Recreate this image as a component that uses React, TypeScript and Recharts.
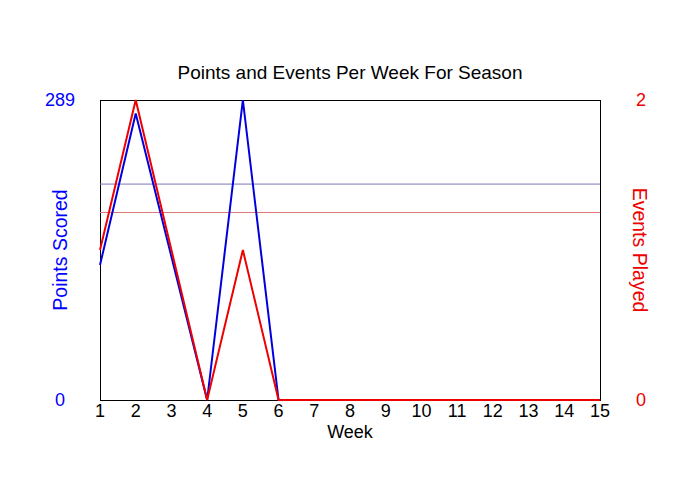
import React from "react"
import { LineChart, Line, XAxis, YAxis, ReferenceLine } from "recharts"

const weeks = [1, 2, 3, 4, 5, 6, 7, 8, 9, 10, 11, 12, 13, 14, 15]
const pointsScored = [130, 276, 138, 0, 289, 0, 0, 0, 0, 0, 0, 0, 0, 0, 0]
const eventsPlayed = [1, 2, 1, 0, 1, 0, 0, 0, 0, 0, 0, 0, 0, 0, 0]
const pointsTicks = [0, 289]
const eventsTicks = [0, 2]
// averages over weeks that were actually played
const avgPoints = 208
const avgEvents = 1.25

const data = weeks.map((week, i) => ({
  week,
  points: pointsScored[i],
  events: eventsPlayed[i],
}))

const font = "'Liberation Sans', Arial, sans-serif"

const App = () => {
  return (
    <div
      style={{
        position: "absolute",
        left: 0,
        top: 0,
        width: 700,
        height: 500,
        background: "#fff",
        fontFamily: font,
      }}
    >
      <div
        style={{
          position: "absolute",
          top: 63,
          left: 0,
          width: 700,
          textAlign: "center",
          fontSize: 19,
          lineHeight: "19px",
          color: "#000",
        }}
      >
        Points and Events Per Week For Season
      </div>
      {/* plot frame sits behind the svg so the lines draw over it */}
      <div
        style={{
          position: "absolute",
          left: 100,
          top: 100,
          width: 501,
          height: 301,
          boxSizing: "border-box",
          border: "1px solid #000",
        }}
      />
      <LineChart
        width={700}
        height={500}
        data={data}
        margin={{ top: 100, right: 20, bottom: 36, left: 20 }}
      >
        <XAxis
          dataKey="week"
          type="number"
          domain={[1, 15]}
          ticks={weeks}
          height={64}
          tickLine={false}
          tickSize={0}
          tickMargin={4}
          axisLine={false}
          tick={{ fill: "#000", fontSize: 18 }}
          label={{ value: "Week", position: "center", fill: "#000", fontSize: 18 }}
        />
        <YAxis
          yAxisId="left"
          orientation="left"
          width={80}
          domain={[0, 289]}
          ticks={pointsTicks}
          tickLine={false}
          tickSize={0}
          tickMargin={40}
          axisLine={false}
          tick={{ fill: "#0000ff", fontSize: 18, textAnchor: "middle" }}
          label={{
            value: "Points Scored",
            angle: -90,
            position: "center",
            fill: "#0000ff",
            fontSize: 19.5,
          }}
        />
        <YAxis
          yAxisId="right"
          orientation="right"
          width={80}
          domain={[0, 2]}
          ticks={eventsTicks}
          tickLine={false}
          tickSize={0}
          tickMargin={41}
          axisLine={false}
          tick={{ fill: "#ee0000", fontSize: 18, textAnchor: "middle" }}
          label={{
            value: "Events Played",
            angle: 90,
            position: "center",
            fill: "#ee0000",
            fontSize: 19.5,
          }}
        />
        <ReferenceLine yAxisId="left" y={avgPoints} stroke="#7777bb" />
        <ReferenceLine yAxisId="right" y={avgEvents} stroke="#dd7777" />
        <Line
          yAxisId="left"
          dataKey="points"
          type="linear"
          stroke="#0000dd"
          strokeWidth={2}
          dot={false}
          isAnimationActive={false}
        />
        <Line
          yAxisId="right"
          dataKey="events"
          type="linear"
          stroke="#ee0000"
          strokeWidth={2}
          dot={false}
          isAnimationActive={false}
        />
      </LineChart>
    </div>
  )
}

export default App
